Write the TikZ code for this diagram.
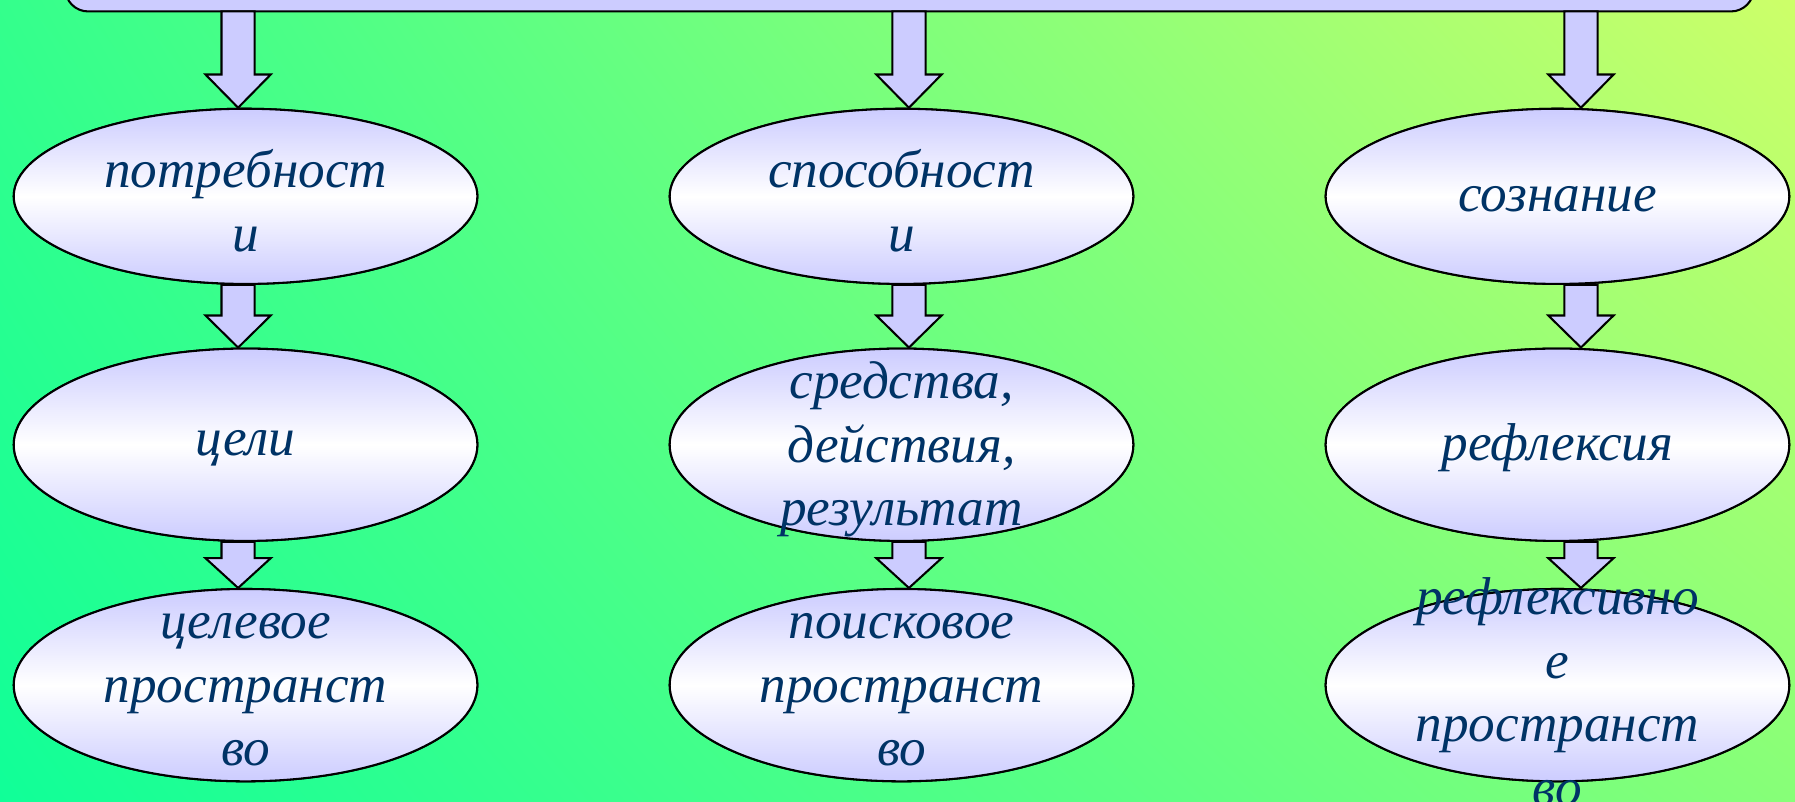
\documentclass[tikz,border=0pt]{standalone}
\usepackage{fontspec}
\setmainfont{Liberation Serif}
\usetikzlibrary{shapes.geometric,calc,shadings}
\definecolor{lav}{RGB}{204,204,255}
\definecolor{txt}{RGB}{0,51,102}
\definecolor{bgTL}{RGB}{52,255,140}
\definecolor{bgTR}{RGB}{205,255,105}
\definecolor{bgBL}{RGB}{16,255,152}
\definecolor{bgBR}{RGB}{135,255,120}
\tikzset{
  oval/.style={ellipse, draw=black, line width=1.8pt, inner sep=0pt,
    minimum width=405pt, top color=lav, bottom color=lav, middle color=white},
  ovalA/.style={oval, minimum height=153pt},
  ovalB/.style={oval, minimum height=168pt},
  lbl/.style={text=txt, align=center, font=\fontsize{46.5}{55.5}\selectfont\itshape, inner sep=0pt},
  barr/.style={draw=black, line width=1.8pt, fill=lav, line join=miter},
  topbar/.style={draw=black, line width=1.8pt, fill=lav, rounded corners=20pt}
}
\newcommand\blockarr[4]{%
  \draw[barr] let \p1=(#2), \p2=(#3) in
    ({#1pt-14.5pt},\y1) -- ({#1pt+14.5pt},\y1) -- ({#1pt+14.5pt},{\y2+#4pt})
    -- ({#1pt+28.5pt},{\y2+#4pt}) -- (#1pt,\y2) -- ({#1pt-28.5pt},{\y2+#4pt})
    -- ({#1pt-14.5pt},{\y2+#4pt}) -- cycle;}
\begin{document}
\begin{tikzpicture}[x=1pt,y=-1pt]
\useasboundingbox (0,0) rectangle (1568,700);
\shade[upper left=bgTL, upper right=bgTR, lower left=bgBL, lower right=bgBR] (0,0) rectangle (1568,700);
\draw[topbar] (57,-60) rectangle (1532,10);
\coordinate (bar1) at (208,10);
\coordinate (bar2) at (794,10);
\coordinate (bar3) at (1381,10);
% ellipses (named first, drawn later on top of arrows)
\path node[ovalA] (e11) at (214.5,171.5) {}
      node[ovalB] (e12) at (214.5,388.5) {}
      node[ovalB] (e13) at (214.5,598.5) {}
      node[ovalA] (e21) at (787.5,171.5) {}
      node[ovalB] (e22) at (787.5,388.5) {}
      node[ovalB] (e23) at (787.5,598.5) {}
      node[ovalA] (e31) at (1360.5,171.5) {}
      node[ovalB] (e32) at (1360.5,388.5) {}
      node[ovalB] (e33) at (1360.5,598.5) {};
% arrows
\blockarr{208}{bar1}{e11.north}{29}
\blockarr{208}{e11.south}{e12.north}{28}
\blockarr{208}{e12.south}{e13.north}{26}
\blockarr{794}{bar2}{e21.north}{29}
\blockarr{794}{e21.south}{e22.north}{28}
\blockarr{794}{e22.south}{e23.north}{26}
\blockarr{1381}{bar3}{e31.north}{29}
\blockarr{1381}{e31.south}{e32.north}{28}
\blockarr{1381}{e32.south}{e33.north}{26}
% redraw ellipses on top
\node[ovalA] at (e11) {};
\node[ovalB] at (e12) {};
\node[ovalB] at (e13) {};
\node[ovalA] at (e21) {};
\node[ovalB] at (e22) {};
\node[ovalB] at (e23) {};
\node[ovalA] at (e31) {};
\node[ovalB] at (e32) {};
\node[ovalB] at (e33) {};
% texts
\node[lbl] (t11) at ($(e11)+(0,4)$) {потребност\\и};
\node[lbl] (t12) at ($(e12)+(0,3)$) {цели};
\node[lbl] (t13) at ($(e13)+(0,4)$) {целевое\\пространст\\во};
\node[lbl] (t21) at ($(e21)+(0,4)$) {способност\\и};
\node[lbl] (t22) at ($(e22)+(0,4)$) {средства,\\действия,\\результат};
\node[lbl] (t23) at ($(e23)+(0,4)$) {поисковое\\пространст\\во};
\node[lbl] (t31) at ($(e31)+(0,3)$) {сознание};
\node[lbl] (t32) at ($(e32)+(0,3)$) {рефлексия};
\node[lbl] (t33) at ($(e33)+(0,6)$) {рефлексивно\\е\\пространст\\во};
\end{tikzpicture}
\end{document}
